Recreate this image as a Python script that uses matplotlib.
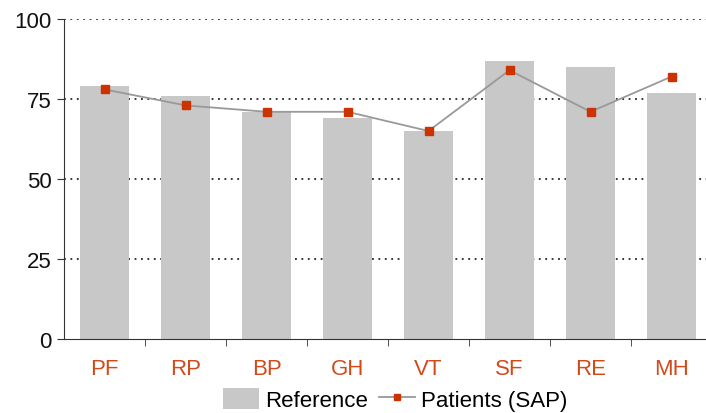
import matplotlib.pyplot as plt
from matplotlib.patches import Patch
from matplotlib.lines import Line2D
import numpy as np

plt.rcParams['font.family'] = ['Liberation Sans Narrow', 'Liberation Sans', 'DejaVu Sans']

# data
categories = ['PF', 'RP', 'BP', 'GH', 'VT', 'SF', 'RE', 'MH']
reference = [79, 76, 71, 69, 65, 87, 85, 77]
patients = [78, 73, 71, 71, 65, 84, 71, 82]
yticks = [0, 25, 50, 75, 100]

bar_color = '#c8c8c8'
marker_color = '#cc3300'
label_color = '#d04a1c'

fig = plt.figure(figsize=(7.06, 4.14), dpi=100)
ax = fig.add_axes([64 / 706, 1 - 340 / 414, 648 / 706, 320 / 414])

x = np.arange(len(categories))

# dotted grid behind bars
for yv in yticks[1:]:
    ax.axhline(yv, color='black', linestyle=(0, (1.2, 3)), linewidth=1.1, zorder=0)

ax.bar(x, reference, width=0.6, color=bar_color, zorder=1)
ax.plot(x, patients, color='#999999', linewidth=1.3, zorder=2)
ax.plot(x, patients, linestyle='none', marker='s', markersize=6,
        color=marker_color, zorder=3)

ax.set_xlim(-0.5, len(categories) - 0.5)
ax.set_ylim(0, 100)
ax.set_yticks(yticks)
ax.tick_params(axis='y', direction='out', length=5, labelsize=16, colors='#333333',
               labelcolor='#111111', pad=4)

ax.set_xticks(x)
ax.set_xticklabels(categories)
ax.tick_params(axis='x', which='major', length=0, labelsize=16, labelcolor=label_color, pad=14)
ax.set_xticks(np.arange(len(categories)) + 0.5, minor=True)
ax.tick_params(axis='x', which='minor', direction='out', length=5, color='#333333')

for side in ['top', 'right']:
    ax.spines[side].set_visible(False)
ax.spines['left'].set_color('#333333')
ax.spines['bottom'].set_color('#333333')

handles = [
    Patch(facecolor=bar_color, edgecolor='none', label='Reference'),
    Line2D([0], [0], color='#999999', linewidth=1.3, marker='s', markersize=4.5,
           markerfacecolor=marker_color, markeredgecolor=marker_color,
           label='Patients (SAP)'),
]
fig.legend(handles=handles, loc='center', bbox_to_anchor=(0.56, 0.033), ncol=2,
           frameon=False, fontsize=16, handlelength=1.6, handleheight=1.1,
           columnspacing=0.5, handletextpad=0.3)

fig.savefig('out.png', dpi=100)
